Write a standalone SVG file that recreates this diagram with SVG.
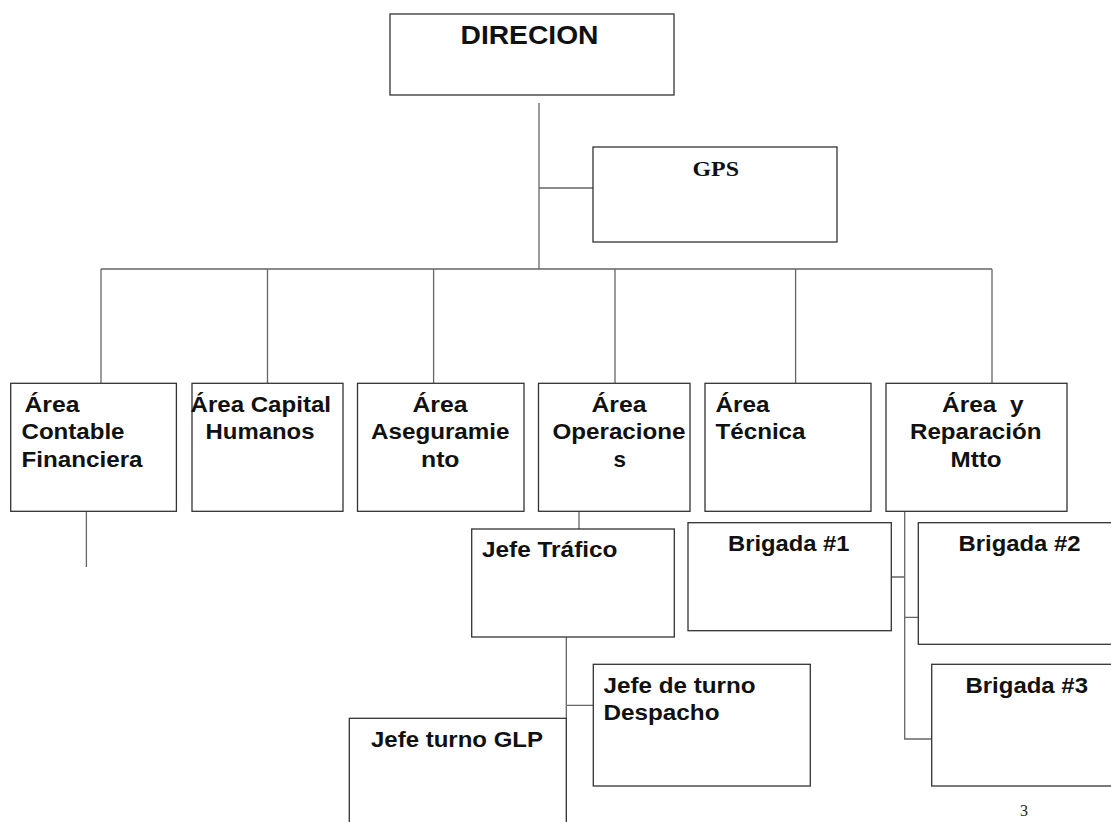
<svg xmlns="http://www.w3.org/2000/svg" width="1111" height="822" viewBox="0 0 1111 822">
<style>
.box{fill:#fff;stroke:#333;stroke-width:1.3}
.t{font-family:"Liberation Sans",Arial,sans-serif;font-weight:bold;font-size:22px;fill:#111;white-space:pre}
.tt{font-family:"Liberation Serif","Times New Roman",serif;font-weight:bold;fill:#111}
.c{fill:none;stroke:#666;stroke-width:1.3}
</style>
<rect width="1111" height="822" fill="#fff"/>
<g id="connectors">
<path class="c" d="M539 103V269M539 188H593M101 269H992M101 269V383.3M267.5 269V383.3M433.6 269V383.3M615 269V383.3M795.6 269V383.3M992 269V383.3M86.4 511.3V567M579 495V529M566.3 637V822M566.3 705.3H593.3M904.7 495V739H931.7M891.3 577H904.7M904.7 617.3H918.3"/>
</g>
<g id="direcion">
<rect class="box" x="390" y="14" width="284" height="81"/>
<text class="t" x="460.5" y="44" textLength="138" lengthAdjust="spacingAndGlyphs" style="font-size:25px">DIRECION</text>
</g>
<g id="gps">
<rect class="box" x="593" y="147" width="244" height="95"/>
<text class="tt" x="692.5" y="176" font-size="20" textLength="46.5" lengthAdjust="spacingAndGlyphs">GPS</text>
</g>
<g id="area-contable">
<rect class="box" x="10.7" y="383.3" width="165.7" height="128"/>
<text class="t" x="24.5" y="411.5" textLength="55" lengthAdjust="spacingAndGlyphs">Área</text>
<text class="t" x="21.5" y="439" textLength="103" lengthAdjust="spacingAndGlyphs">Contable</text>
<text class="t" x="21.5" y="466.5" textLength="121" lengthAdjust="spacingAndGlyphs">Financiera</text>
</g>
<g id="area-capital">
<rect class="box" x="192" y="383.3" width="151" height="128"/>
<text class="t" x="190.5" y="411.5" textLength="140.5" lengthAdjust="spacingAndGlyphs">Área Capital</text>
<text class="t" x="205.5" y="439" textLength="109" lengthAdjust="spacingAndGlyphs">Humanos</text>
</g>
<g id="area-aseguramiento">
<rect class="box" x="357.5" y="383.3" width="166.5" height="128"/>
<text class="t" x="412.5" y="411.5" textLength="55" lengthAdjust="spacingAndGlyphs">Área</text>
<text class="t" x="371" y="439" textLength="138.5" lengthAdjust="spacingAndGlyphs">Aseguramie</text>
<text class="t" x="421" y="466.5" textLength="38.5" lengthAdjust="spacingAndGlyphs">nto</text>
</g>
<g id="area-operaciones">
<rect class="box" x="538.5" y="383.3" width="151.5" height="128"/>
<text class="t" x="591.5" y="411.5" textLength="55" lengthAdjust="spacingAndGlyphs">Área</text>
<text class="t" x="552.5" y="439" textLength="133" lengthAdjust="spacingAndGlyphs">Operacione</text>
<text class="t" x="613.5" y="466.5" textLength="12.5" lengthAdjust="spacingAndGlyphs">s</text>
</g>
<g id="area-tecnica">
<rect class="box" x="705" y="383.3" width="166" height="128"/>
<text class="t" x="715.5" y="411.5" textLength="54" lengthAdjust="spacingAndGlyphs">Área</text>
<text class="t" x="715.5" y="439" textLength="90" lengthAdjust="spacingAndGlyphs">Técnica</text>
</g>
<g id="area-reparacion">
<rect class="box" x="886" y="383.3" width="181" height="128"/>
<text class="t" x="942" y="411.5" textLength="81.5" lengthAdjust="spacingAndGlyphs">Área  y</text>
<text class="t" x="910" y="439" textLength="131.5" lengthAdjust="spacingAndGlyphs">Reparación</text>
<text class="t" x="950.5" y="466.5" textLength="51" lengthAdjust="spacingAndGlyphs">Mtto</text>
</g>
<g id="jefe-trafico">
<rect class="box" x="471.7" y="529" width="202.6" height="108"/>
<text class="t" x="482" y="557.3" textLength="135.5" lengthAdjust="spacingAndGlyphs">Jefe Tráfico</text>
</g>
<g id="jefe-despacho">
<rect class="box" x="593.3" y="664.3" width="217" height="121.7"/>
<text class="t" x="603.5" y="692.7" textLength="152" lengthAdjust="spacingAndGlyphs">Jefe de turno</text>
<text class="t" x="603.5" y="720" textLength="116" lengthAdjust="spacingAndGlyphs">Despacho</text>
</g>
<g id="jefe-glp">
<rect class="box" x="349.3" y="718.3" width="217" height="130"/>
<text class="t" x="371" y="746.7" textLength="172" lengthAdjust="spacingAndGlyphs">Jefe turno GLP</text>
</g>
<g id="brigada-1">
<rect class="box" x="688" y="522.7" width="203.3" height="108"/>
<text class="t" x="728" y="551" textLength="121.5" lengthAdjust="spacingAndGlyphs">Brigada #1</text>
</g>
<g id="brigada-2">
<rect class="box" x="918.3" y="522.7" width="210" height="121.6"/>
<text class="t" x="958.5" y="551" textLength="122" lengthAdjust="spacingAndGlyphs">Brigada #2</text>
</g>
<g id="brigada-3">
<rect class="box" x="931.7" y="664.3" width="200" height="121.7"/>
<text class="t" x="965.5" y="692.7" textLength="122.5" lengthAdjust="spacingAndGlyphs">Brigada #3</text>
</g>
<text x="1020" y="816" style="font-family:'Liberation Serif','Times New Roman',serif;font-size:16px;fill:#222">3</text>
</svg>
